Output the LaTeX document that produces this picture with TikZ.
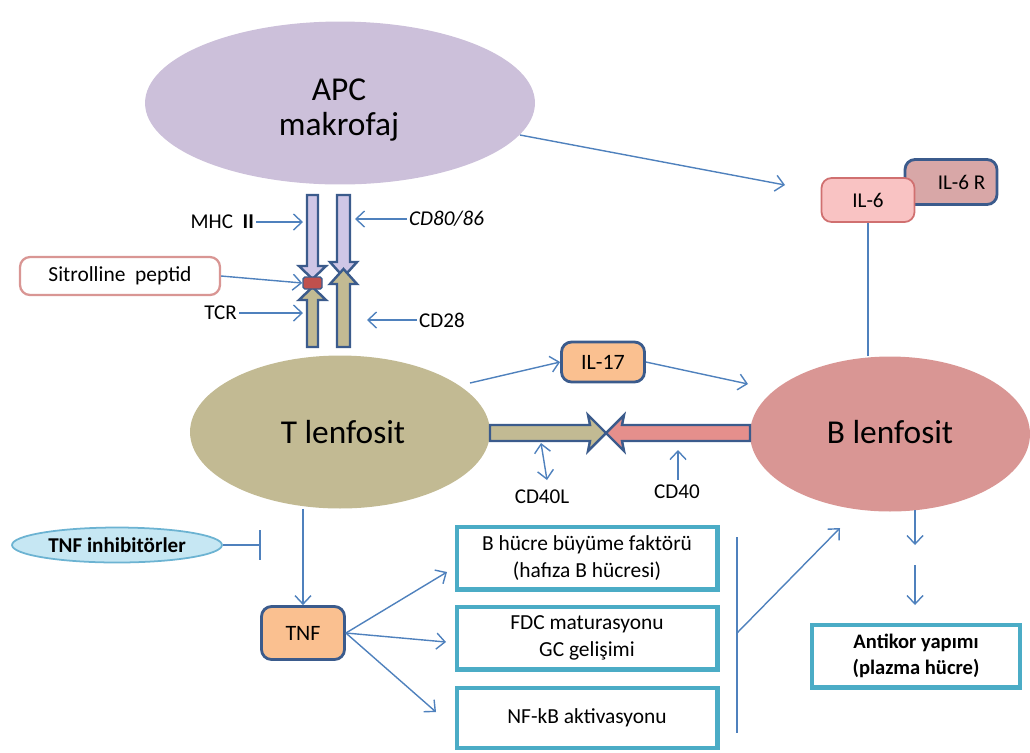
\documentclass[tikz,border=0pt]{standalone}
\usepackage{fontspec}
\setmainfont{Carlito}
\usetikzlibrary{arrows.meta,shapes.geometric,shapes.misc}
\definecolor{arrblue}{HTML}{4F81BD}
\definecolor{dkblue}{HTML}{3B5B8C}
\definecolor{apcc}{HTML}{CCC0DA}
\definecolor{barp}{HTML}{CFC6E6}
\definecolor{tcol}{HTML}{C2BA93}
\definecolor{bcol}{HTML}{D99694}
\definecolor{redarr}{HTML}{E58F8C}
\definecolor{peach}{HTML}{FAC090}
\definecolor{tealb}{HTML}{4BACC6}
\definecolor{il6}{HTML}{F9C3C3}
\definecolor{il6r}{HTML}{D8A7A7}
\definecolor{il6b}{HTML}{D07070}
\definecolor{pinkb}{HTML}{D99694}
\definecolor{cyanf}{HTML}{C6E7F3}
\definecolor{cyanb}{HTML}{6CB3D2}
\definecolor{pep}{HTML}{C0504D}
\begin{document}
\begin{tikzpicture}[x=0.02cm,y=-0.02cm,
  arr/.style={draw=arrblue, line width=0.8pt, -{Straight Barb[length=1.7mm,width=3.2mm]}},
  ln/.style={draw=arrblue, line width=0.8pt},
  cell/.style={ellipse, inner sep=0pt, draw=none},
  big/.style={font=\fontsize{19}{19.5}\selectfont, align=center},
  lbl/.style={font=\fontsize{12}{14}\selectfont, inner sep=1pt},
  sbox/.style={rectangle, rounded corners=2mm, draw=dkblue, line width=1.6pt, fill=peach, font=\fontsize{12.5}{14}\selectfont, inner sep=0pt},
  tbox/.style={rectangle, draw=tealb, line width=2.3pt, fill=white, align=center, font=\fontsize{12.2}{15}\selectfont, inner sep=0pt},
  blk/.style={draw=dkblue, line width=1.4pt, line join=miter}
]
\useasboundingbox (0,0) rectangle (1030,752);

% cells
\node[cell, fill=apcc, minimum width=7.8cm, minimum height=3.26cm] (apc) at (340,103) {};
\node[big] (apct) at (339,110) {APC\\makrofaj};
\node[cell, fill=tcol, minimum width=6cm, minimum height=3.06cm] (tcell) at (340,432) {};
\node[big] (tt) at (343,432) {T lenfosit};
\node[cell, fill=bcol, minimum width=5.6cm, minimum height=3.1cm] (bcell) at (890,434) {};
\node[big] (bt) at (890,432) {B lenfosit};

% receptor bars
\filldraw[blk, fill=barp] (307,195) -- (318,195) -- (318,266) -- (326,266) -- (312.5,279) -- (299,266) -- (307,266) -- cycle;
\filldraw[blk, fill=tcol] (307,347) -- (318,347) -- (318,300) -- (326,300) -- (312.5,287) -- (299,300) -- (307,300) -- cycle;
\node[rectangle, rounded corners=1pt, fill=pep, draw=dkblue, line width=0.8pt, minimum width=0.38cm, minimum height=0.24cm, inner sep=0pt] (pepsq) at (312.5,283) {};
\filldraw[blk, fill=barp] (337,195) -- (350,195) -- (350,262) -- (357,262) -- (343.5,277) -- (330,262) -- (337,262) -- cycle;
\filldraw[blk, fill=tcol] (337,347) -- (350,347) -- (350,284) -- (357,284) -- (343.5,269) -- (330,284) -- (337,284) -- cycle;

% receptor labels
\node[lbl, anchor=east] (mhc) at (256,222) {MHC\ \ \textbf{II}};
\coordinate (mhcend) at (303,222);
\draw[arr] (mhc) -- (mhcend);
\node[lbl, anchor=west, font=\fontsize{12}{14}\selectfont\itshape] (cd80) at (407,219) {CD80/86};
\coordinate (cd80end) at (355,219);
\draw[arr] (cd80) -- (cd80end);
\node[rectangle, rounded corners=2mm, draw=pinkb, line width=1.3pt, fill=white, minimum width=4cm, minimum height=0.76cm, inner sep=0pt, font=\fontsize{12.2}{14}\selectfont] (sit) at (120,276) {Sitrolline\ \ peptid};
\draw[arr] (sit.east) -- (pepsq.west);
\node[lbl, anchor=east] (tcr) at (239,313) {TCR};
\coordinate (tcrend) at (303,313);
\draw[arr] (tcr) -- (tcrend);
\node[lbl, anchor=west] (cd28) at (417,320) {CD28};
\coordinate (cd28end) at (367,320);
\draw[arr] (cd28) -- (cd28end);

% IL-17
\node[sbox, minimum width=1.66cm, minimum height=0.8cm] (il17) at (603,362) {IL-17};
\coordinate (tout) at (470,383);
\draw[arr] (tout) -- (il17.west);
\coordinate (bin) at (748,384);
\draw[arr] (il17.east) -- (bin);

% CD40L / CD40 block arrows
\filldraw[blk, fill=tcol] (490,425) -- (590,425) -- (588,415) -- (606,433) -- (588,451) -- (590,441) -- (490,441) -- cycle;
\filldraw[blk, fill=redarr] (750,425) -- (622,425) -- (624,415) -- (606,433) -- (624,451) -- (622,441) -- (750,441) -- cycle;
\node[lbl] (cd40l) at (542,497) {CD40L};
\coordinate (cd40la) at (541,443);
\coordinate (cd40lb) at (547,480);
\draw[ln, {Straight Barb[length=1.7mm,width=3.2mm]}-{Straight Barb[length=1.7mm,width=3.2mm]}] (cd40lb) -- (cd40la);
\node[lbl] (cd40) at (677,492) {CD40};
\coordinate (cd40a) at (678,450);
\draw[arr] (cd40.north) ++(1,-3) -- (cd40a);

% IL-6 / IL-6 R
\node[rectangle, rounded corners=2mm, draw=dkblue, line width=1.6pt, fill=il6r, minimum width=1.84cm, minimum height=0.9cm, inner sep=0pt, font=\fontsize{12}{14}\selectfont] (il6r) at (951,182) {\hspace{1em}IL-6 R};
\node[rectangle, rounded corners=2mm, draw=il6b, line width=1pt, fill=il6, minimum width=1.86cm, minimum height=0.88cm, inner sep=0pt, font=\fontsize{12}{14}\selectfont] (il6) at (868,200) {IL-6};
\coordinate (apcout) at (520,135);
\coordinate (il6in) at (785,185);
\draw[arr] (apcout) -- (il6in);
\draw[ln] (il6.south) -- (bcell.north -| il6.south);

% TNF inhibitors
\node[ellipse, draw=cyanb, line width=1pt, fill=cyanf, minimum width=4.2cm, minimum height=0.7cm, inner sep=0pt, font=\fontsize{12}{14}\selectfont\bfseries] (inh) at (117,545) {TNF inhibitörler};
\coordinate (tbar) at (260,545);
\draw[ln] (inh.east) -- (tbar);
\draw[ln] (260,530) -- (260,560);

% TNF
\node[sbox, minimum width=1.66cm, minimum height=1.06cm] (tnf) at (303,633) {TNF};
\draw[arr] (tcell.south -| tnf.north) -- (tnf.north);

% effect boxes
\node[tbox, minimum width=5.22cm, minimum height=1.26cm] (b1) at (587,558) {B hücre büyüme faktörü\\(hafıza B hücresi)};
\node[tbox, minimum width=5.22cm, minimum height=1.26cm] (b2) at (587,638) {FDC maturasyonu\\GC gelişimi};
\node[tbox, minimum width=5.22cm, minimum height=1.2cm] (b3) at (587,718) {NF-kB aktivasyonu};
\coordinate (t1) at (447,572);
\coordinate (t2) at (446,642);
\coordinate (t3) at (436,712);
\draw[arr] (tnf.east) -- (t1);
\draw[arr] (tnf.east) -- (t2);
\draw[arr] (tnf.east) -- (t3);

\coordinate (vtop) at (737,537);
\coordinate (vbot) at (737,733);
\coordinate (vmid) at (737,633);
\draw[ln] (vtop) -- (vbot);
\coordinate (bcin) at (840,528);
\draw[arr] (vmid) -- (bcin);

% antibody
\coordinate (d1a) at (915,510);
\coordinate (d1b) at (915,545);
\coordinate (d2a) at (915,565);
\coordinate (d2b) at (915,605);
\draw[arr] (d1a) -- (d1b);
\draw[arr] (d2a) -- (d2b);
\node[tbox, minimum width=4.16cm, minimum height=1.26cm, font=\fontsize{11.7}{15}\selectfont\bfseries] (ab) at (916,656) {Antikor yapımı\\(plazma hücre)};
\end{tikzpicture}
\end{document}
